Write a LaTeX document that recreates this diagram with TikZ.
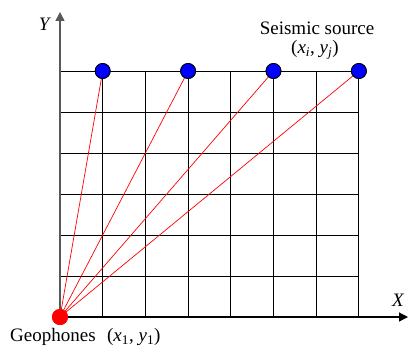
\documentclass[tikz,border=0pt]{standalone}
\usepackage{fontspec}
\setmainfont{Liberation Serif}
\usetikzlibrary{arrows.meta}
\begin{document}
\begin{tikzpicture}[x=42.7pt, y=41pt, >={Triangle[length=9pt,width=9pt]},
    source/.style={circle, fill=blue, draw=black, line width=0.8pt, inner sep=0pt, minimum size=15pt},
    geophone/.style={circle, fill=red, inner sep=0pt, minimum size=16pt},
    ray/.style={red, line width=0.7pt},
    label/.style={font=\fontsize{19}{22}\selectfont, inner sep=0pt}]
  \useasboundingbox (-1.405,-0.707) rectangle (8.197,7.732);
  % grid
  \foreach \i in {1,...,6} \draw[line width=0.8pt] (0,\i) -- (7,\i);
  \foreach \i in {1,...,7} \draw[line width=0.8pt] (\i,0) -- (\i,6);
  % axes
  \draw[->, line width=1.2pt] (0,0) -- (8.15,0);
  \draw[->, line width=1.6pt, gray!70!black] (0,0) -- (0,7.44);
  \node[label] (xlab) at (7.92,0.41) {\textit{X}};
  \node[label] (ylab) at (-0.35,7.15) {\textit{Y}};
  % geophone and sources
  \node[geophone] (g) at (0,0) {};
  \foreach \j/\c in {1/1,2/3,3/5,4/7} {
    \node[source] (s\j) at (\c,6) {};
    \draw[ray] (g.center) -- (s\j.center);
    \node[source] at (s\j) {};
  }
  \node[geophone] at (g) {};
  \node[label] (srclab) at (6.02,7.05) {Seismic source};
  \node[label] (srcxy) at (5.97,6.51) {(\textit{x}\textsubscript{\textit{i}}, \textit{y}\textsubscript{\textit{j}})};
  \node[label, anchor=west] (glab) at (-1.17,-0.49) {Geophones};
  \node[label, anchor=west] (gxy) at (1.10,-0.49) {(\textit{x}\textsubscript{1}, \textit{y}\textsubscript{1})};
\end{tikzpicture}
\end{document}
